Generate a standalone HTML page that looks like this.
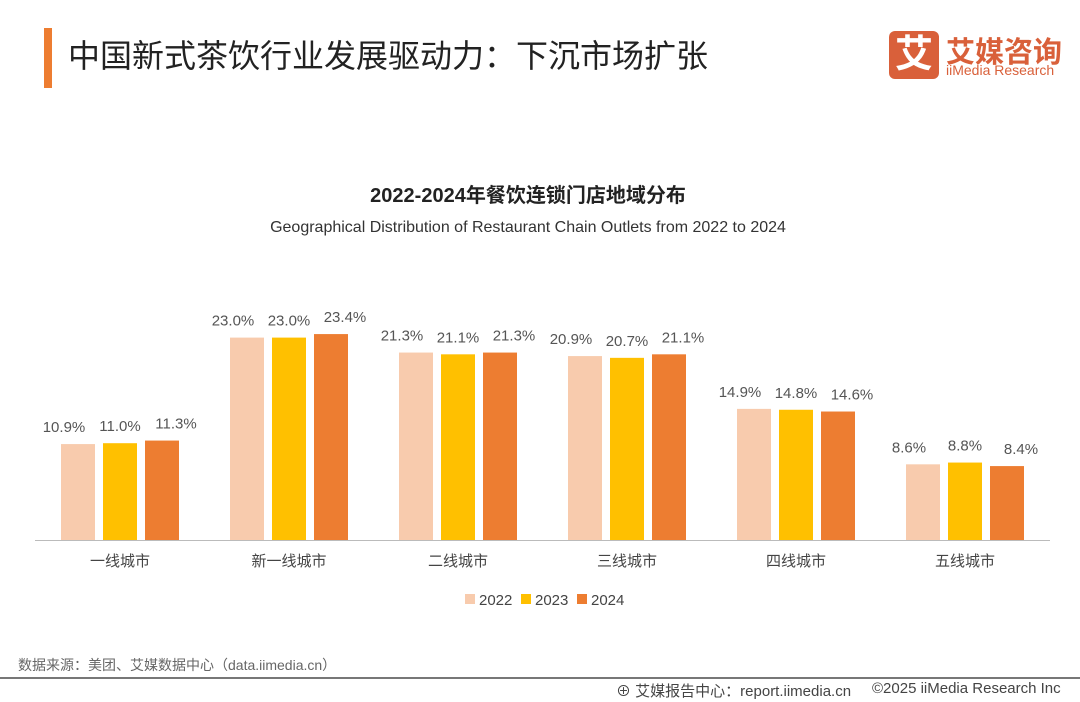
<!DOCTYPE html>
<html><head><meta charset="utf-8"><style>
body{margin:0;width:1080px;height:702px;background:#fff;overflow:hidden;position:relative;font-family:"Liberation Sans","Noto Sans CJK SC",sans-serif}
.abs{position:absolute}
</style></head><body>
<div class="abs" style="left:44px;top:28px;width:8px;height:60px;background:#ED7D31"></div>
<div class="abs" style="left:68px;top:31px;font-size:32px;color:#222;white-space:nowrap">中国新式茶饮行业发展驱动力：下沉市场扩张</div>
<div class="abs" style="left:889px;top:31px;width:50px;height:48px;background:#D9603A;border-radius:6px;color:#fff;font-size:38px;line-height:48px;text-align:center;font-weight:bold">艾</div>
<div class="abs" style="left:946px;top:29px;font-size:29px;color:#D9603A;font-weight:bold;white-space:nowrap">艾媒咨询</div>
<div class="abs" style="left:946px;top:62px;font-size:14px;color:#D9603A;white-space:nowrap">iiMedia Research</div>
<svg class="abs" style="left:0;top:0" width="1080" height="702">
<text x="528" y="202" text-anchor="middle" font-size="20" font-weight="bold" fill="#222">2022-2024年餐饮连锁门店地域分布</text>
<text x="528" y="232" text-anchor="middle" font-size="16" fill="#333">Geographical Distribution of Restaurant Chain Outlets from 2022 to 2024</text>
<g id="bars"></g>
<line x1="35" y1="540.5" x2="1050" y2="540.5" stroke="#bbb"/>
<g id="legend"></g>
</svg>
<div class="abs" style="left:18px;top:655px;font-size:14px;color:#666;white-space:nowrap">数据来源：美团、艾媒数据中心（data.iimedia.cn）</div>
<div class="abs" style="left:0;top:677px;width:1080px;height:2px;background:#777"></div>
<div class="abs" style="left:616px;top:680px;font-size:15px;color:#444;white-space:nowrap">⊕ 艾媒报告中心：report.iimedia.cn</div>
<div class="abs" style="left:872px;top:680px;font-size:15px;color:#444;white-space:nowrap">©2025 iiMedia Research Inc</div>
<script>
const categories=["一线城市","新一线城市","二线城市","三线城市","四线城市","五线城市"];
const seriesNames=["2022","2023","2024"];
const v2022=[10.9,23.0,21.3,20.9,14.9,8.6];
const v2023=[11.0,23.0,21.1,20.7,14.8,8.8];
const v2024=[11.3,23.4,21.3,21.1,14.6,8.4];
const colors=["#F8CBAD","#FFC000","#ED7D31"];
const NS="http://www.w3.org/2000/svg";
const base=540,scale=8.8,gx0=120,gstep=169,bw=34,offs=[-42,0,42],loffs=[-14,0,14];
const y=v=>base-v*scale, xg=i=>gx0+i*gstep;
const g=document.getElementById('bars');
[v2022,v2023,v2024].forEach((arr,s)=>{arr.forEach((v,i)=>{
 const r=document.createElementNS(NS,'rect');
 const cx=xg(i)+offs[s];
 r.setAttribute('x',cx-bw/2);r.setAttribute('y',y(v));r.setAttribute('width',bw);r.setAttribute('height',v*scale);r.setAttribute('fill',colors[s]);
 
 
 g.appendChild(r);
 const t=document.createElementNS(NS,'text');
 t.setAttribute('x',cx+loffs[s]);t.setAttribute('y',y(v)-12);t.setAttribute('text-anchor','middle');t.setAttribute('font-size','15');t.setAttribute('fill','#555');
 t.textContent=v.toFixed(1)+'%';
 
 
 g.appendChild(t);
});});
categories.forEach((c,i)=>{
 const t=document.createElementNS(NS,'text');
 t.setAttribute('x',xg(i));t.setAttribute('y',566);t.setAttribute('text-anchor','middle');t.setAttribute('font-size','15');t.setAttribute('fill','#444');
 t.textContent=c;
 
 
 g.appendChild(t);
});
const lg=document.getElementById('legend');
seriesNames.forEach((n,s)=>{
 const lx=465+s*56;
 const r=document.createElementNS(NS,'rect');
 r.setAttribute('x',lx);r.setAttribute('y',594);r.setAttribute('width',10);r.setAttribute('height',10);r.setAttribute('fill',colors[s]);
 
 
 lg.appendChild(r);
 const t=document.createElementNS(NS,'text');
 t.setAttribute('x',lx+14);t.setAttribute('y',605);t.setAttribute('font-size','15');t.setAttribute('fill','#444');
 t.textContent=n;
 
 
 lg.appendChild(t);
});
</script>
</body></html>
